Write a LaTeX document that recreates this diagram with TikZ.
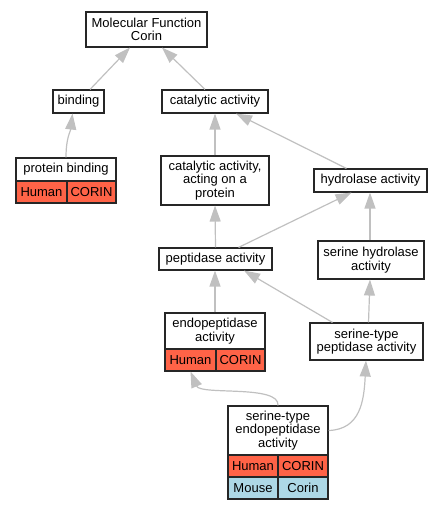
\documentclass[tikz,border=0pt]{standalone}
\usepackage{fontspec}
\setmainfont{Liberation Sans}
\usetikzlibrary{arrows.meta}
\definecolor{hred}{RGB}{255,99,71}
\definecolor{hblue}{RGB}{173,216,230}
\definecolor{egray}{RGB}{192,192,192}
\newcommand\gofs{\fontsize{13}{13.4}\selectfont}
\tikzset{
  box/.style={draw=black!85, line width=1.1pt, fill=white, align=center, inner sep=0pt, font=\gofs},
  hum/.style={box, fill=hred},
  mou/.style={box, fill=hblue},
  edge/.style={draw=egray, line width=1.2pt, -{Triangle[length=16pt,width=11pt]}}
}
\begin{document}
\begin{tikzpicture}[x=1pt,y=-1pt]
\useasboundingbox (0,0) rectangle (443,509);
% nodes
\node[box, minimum width=121, minimum height=35] (mf) at (146.5,29.5) {Molecular Function\\Corin};
\node[box, minimum width=51, minimum height=23] (bind) at (78.5,101.5) {binding};
\node[box, minimum width=106, minimum height=23] (cat) at (215,101.5) {catalytic activity};
\node[box, minimum width=100, minimum height=23] (pb) at (66,169.5) {protein binding};
\node[hum, minimum width=51, minimum height=22] (pbh) at (41.5,192) {Human};
\node[hum, minimum width=49, minimum height=22] (pbc) at (91.5,192) {CORIN};
\node[box, minimum width=108, minimum height=49] (capp) at (215,180.5) {catalytic activity,\\acting on a\\protein};
\node[box, minimum width=113, minimum height=23] (hyd) at (370.5,180.5) {hydrolase activity};
\node[box, minimum width=113, minimum height=22] (pep) at (215.5,259) {peptidase activity};
\node[box, minimum width=106, minimum height=38] (shyd) at (371,260) {serine hydrolase\\activity};
\node[box, minimum width=100, minimum height=36] (endo) at (215,331) {endopeptidase\\activity};
\node[hum, minimum width=51, minimum height=22] (endoh) at (190.5,360) {Human};
\node[hum, minimum width=49, minimum height=22] (endoc) at (240.5,360) {CORIN};
\node[box, minimum width=113, minimum height=37] (stp) at (366.5,341.5) {serine-type\\peptidase activity};
\node[box, minimum width=100, minimum height=49] (sendo) at (278,430.5) {serine-type\\endopeptidase\\activity};
\node[hum, minimum width=50, minimum height=22] (sendoh) at (253,466) {Human};
\node[hum, minimum width=50, minimum height=22] (sendoc) at (303,466) {CORIN};
\node[mou, minimum width=50, minimum height=22] (sendom) at (253,488) {Mouse};
\node[mou, minimum width=50, minimum height=22] (sendomc) at (303,488) {Corin};
% edges
\draw[edge] ([xshift=11.5pt]bind.north) -- ([xshift=-16.5pt]mf.south);
\draw[edge] ([xshift=-10pt]cat.north) -- ([xshift=15.5pt]mf.south);
\draw[edge] (pb.north) .. controls +(0,-20) and +(-2,18) .. ([xshift=-6pt]bind.south);
\draw[edge] (capp.north) -- (cat.south);
\draw[edge] ([xshift=-24pt]hyd.north) -- ([xshift=21pt]cat.south);
\draw[edge] (pep.north) -- (capp.south);
\draw[edge] ([xshift=23pt]pep.north) -- ([xshift=-19pt]hyd.south);
\draw[edge] ([xshift=-1pt]shyd.north) -- ([xshift=-0.5pt]hyd.south);
\draw[edge] (endo.north) -- ([xshift=-0.5pt]pep.south);
\draw[edge] ([xshift=-34pt]stp.north) -- ([xshift=28.5pt]pep.south);
\draw[edge] ([xshift=2pt]stp.north) -- ([xshift=-1pt]shyd.south);
\draw[edge] (sendo.north) .. controls +(2,-21) and +(10,24) .. (endoh.south);
\draw[edge] (sendo.east) .. controls +(32,-1) and +(-2,40) .. ([xshift=-0.5pt]stp.south);
\end{tikzpicture}
\end{document}
